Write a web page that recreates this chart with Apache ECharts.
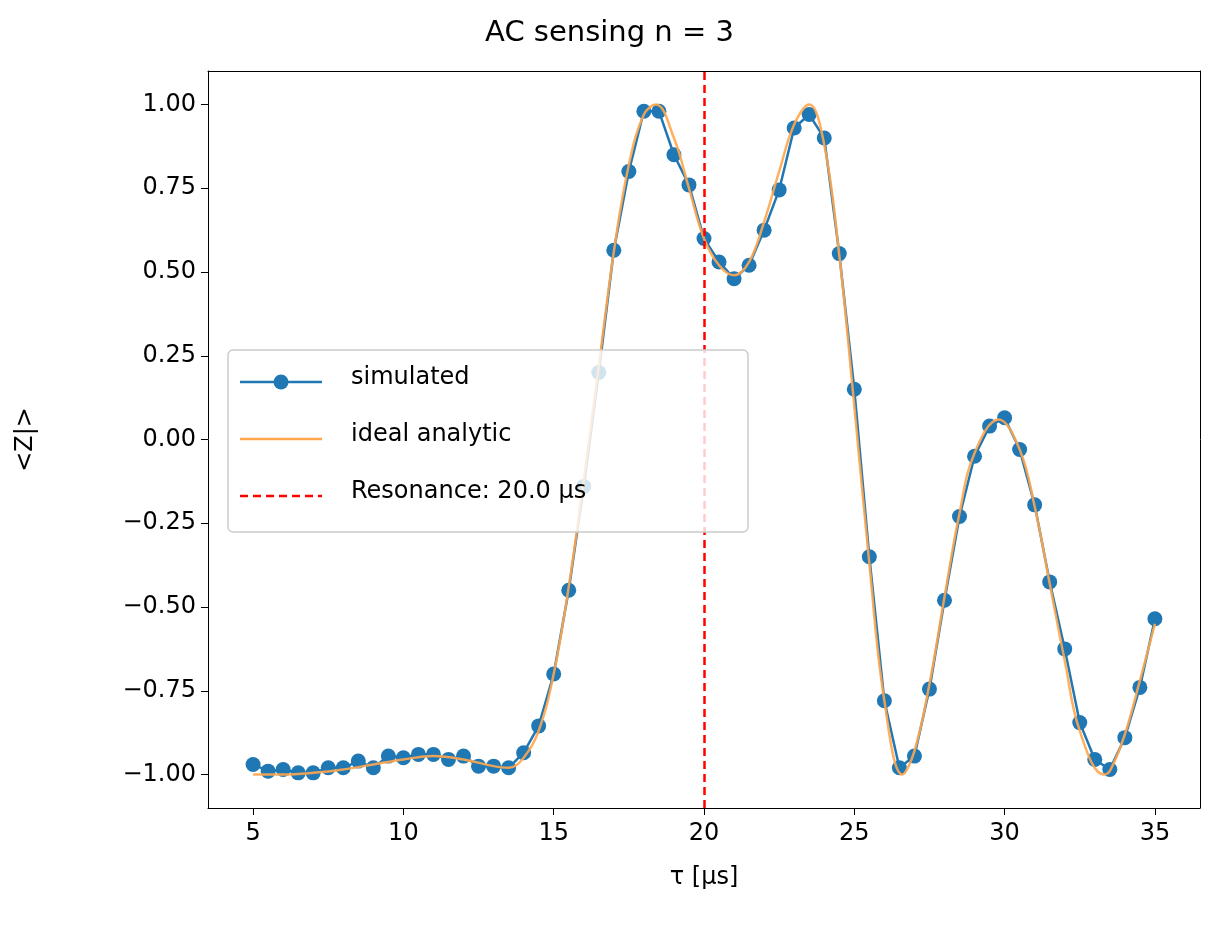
<!DOCTYPE html>
<html>
<head>
<meta charset="utf-8">
<script src="https://cdn.jsdelivr.net/npm/echarts@6/dist/echarts.min.js"></script>
<style>body{margin:0;padding:0;background:#fff;}</style>
</head>
<body>
<div id="main" style="width:1219px;height:941px;"></div>
<script type="text/javascript">
// simulated points, tau step 0.5 from 5 to 35
let tau = [];
for (let i = 0; i <= 60; i++) tau.push(5 + i * 0.5);
let simulated = [-0.97,-0.99,-0.985,-0.995,-0.995,-0.98,-0.98,-0.96,-0.98,-0.945,-0.95,-0.94,-0.94,-0.955,-0.945,-0.975,-0.975,-0.98,-0.935,-0.855,
  -0.70,-0.45,-0.14,0.20,0.565,0.80,0.98,0.98,0.85,0.76,0.60,0.53,0.48,0.52,0.625,0.745,0.93,0.97,0.90,0.555,
  0.15,-0.35,-0.78,-0.98,-0.945,-0.745,-0.48,-0.23,-0.05,0.04,0.065,-0.03,-0.195,-0.425,-0.625,-0.845,-0.955,-0.985,-0.89,-0.74,-0.535];
// ideal analytic curve
let idealX = [5,6,7,8,9,10,11,12,13,13.5,14,14.5,15,15.5,16,16.5,17,17.5,18,18.4,19,19.5,20,20.5,21,21.5,22,22.5,23,23.5,24,24.5,25,25.5,26,26.6,27,27.5,28,28.5,29,29.8,30.5,31,31.5,32,32.5,33.3,33.5,34,34.5,35];
let idealY = [-1,-1,-0.995,-0.985,-0.97,-0.955,-0.945,-0.955,-0.975,-0.98,-0.95,-0.87,-0.70,-0.44,-0.12,0.22,0.56,0.82,0.97,1.0,0.90,0.75,0.60,0.52,0.49,0.53,0.65,0.80,0.94,1.0,0.88,0.55,0.10,-0.37,-0.78,-1.0,-0.93,-0.73,-0.47,-0.22,-0.04,0.06,-0.03,-0.20,-0.43,-0.66,-0.87,-1.0,-0.99,-0.88,-0.72,-0.55];
let xTicks = [5,10,15,20,25,30,35];
let yTicks = [-1,-0.75,-0.5,-0.25,0,0.25,0.5,0.75,1];
let resonance = 20.0;

let font = 'DejaVu Sans';
let fmtMinus = v => String(v).replace('-', '\u2212');
var myChart = echarts.init(document.getElementById('main'));
let lx = 240, ly = 382, gap = 57;
let fs = 24;
option = {
  animation: false,
  title: {text: 'AC sensing n = 3', left: 'center', top: 14, textStyle: {fontFamily: font, fontSize: 29, fontWeight: 'normal', color: '#000'}},
  grid: {left: 208, right: 19, top: 71, bottom: 133},
  xAxis: [{
    type: 'value', min: 3.5, max: 36.5,
    name: 'τ [μs]', nameLocation: 'middle', nameGap: 58,
    nameTextStyle: {fontFamily: font, fontSize: fs, color: '#000'},
    axisLine: {onZero: false, lineStyle: {color: '#000'}},
    axisTick: {length: 7, lineStyle: {color: '#000'}, customValues: xTicks},
    axisLabel: {fontFamily: font, fontSize: fs, color: '#000', margin: 14, customValues: xTicks},
    splitLine: {show: false}
  }, {
    type: 'value', position: 'top', min: 3.5, max: 36.5,
    axisLine: {onZero: false, lineStyle: {color: '#000'}},
    axisTick: {show: false}, axisLabel: {show: false}, splitLine: {show: false}
  }],
  yAxis: [{
    type: 'value', min: -1.1, max: 1.1,
    name: '<Z|>', nameLocation: 'middle', nameGap: 170,
    nameTextStyle: {fontFamily: font, fontSize: fs, color: '#000'},
    axisLine: {show: true, onZero: false, lineStyle: {color: '#000'}},
    axisTick: {length: 7, lineStyle: {color: '#000'}, customValues: yTicks},
    axisLabel: {fontFamily: font, fontSize: fs, color: '#000', margin: 12,
      customValues: yTicks, formatter: v => fmtMinus(v.toFixed(2))},
    splitLine: {show: false}
  }, {
    type: 'value', position: 'right', min: -1.1, max: 1.1,
    axisLine: {show: true, onZero: false, lineStyle: {color: '#000'}},
    axisTick: {show: false}, axisLabel: {show: false}, splitLine: {show: false}
  }],
  series: [
    {type: 'line', data: idealX.map((x, i) => [x, idealY[i]]), smooth: 0.4, showSymbol: false,
      lineStyle: {color: '#ffa64d', width: 2.5, opacity: 0.9}, z: 3,
      markLine: {silent: true, symbol: 'none', label: {show: false},
        lineStyle: {color: '#ff0000', type: [8, 5], width: 2.5}, data: [{xAxis: resonance}]}},
    {type: 'line', data: tau.map((x, i) => [x, simulated[i]]), symbol: 'circle', symbolSize: 15,
      itemStyle: {color: '#1f77b4'}, lineStyle: {color: '#1f77b4', width: 2.5}, z: 2}
  ],
  graphic: [
    {type: 'rect', shape: {x: 228, y: 350, width: 520, height: 182, r: 5},
      style: {fill: 'rgba(255,255,255,0.8)', stroke: '#ccc', lineWidth: 1.5}, z: 10},
    {type: 'line', shape: {x1: lx, y1: ly, x2: lx + 82, y2: ly}, style: {stroke: '#1f77b4', lineWidth: 2.5}, z: 11},
    {type: 'circle', shape: {cx: lx + 41, cy: ly, r: 7.5}, style: {fill: '#1f77b4'}, z: 11},
    {type: 'line', shape: {x1: lx, y1: ly + gap, x2: lx + 82, y2: ly + gap}, style: {stroke: '#ffa64d', lineWidth: 2.5}, z: 11},
    {type: 'line', shape: {x1: lx, y1: ly + 2 * gap, x2: lx + 82, y2: ly + 2 * gap}, style: {stroke: '#ff0000', lineWidth: 2.5, lineDash: [8, 5]}, z: 11},
    {type: 'text', left: lx + 111, top: ly - 16, style: {text: 'simulated', font: '24px DejaVu Sans', fill: '#000'}, z: 11},
    {type: 'text', left: lx + 111, top: ly + gap - 16, style: {text: 'ideal analytic', font: '24px DejaVu Sans', fill: '#000'}, z: 11},
    {type: 'text', left: lx + 111, top: ly + 2 * gap - 16, style: {text: 'Resonance: 20.0 μs', font: '24px DejaVu Sans', fill: '#000'}, z: 11}
  ]
};
myChart.setOption(option);
</script>
</body>
</html>
